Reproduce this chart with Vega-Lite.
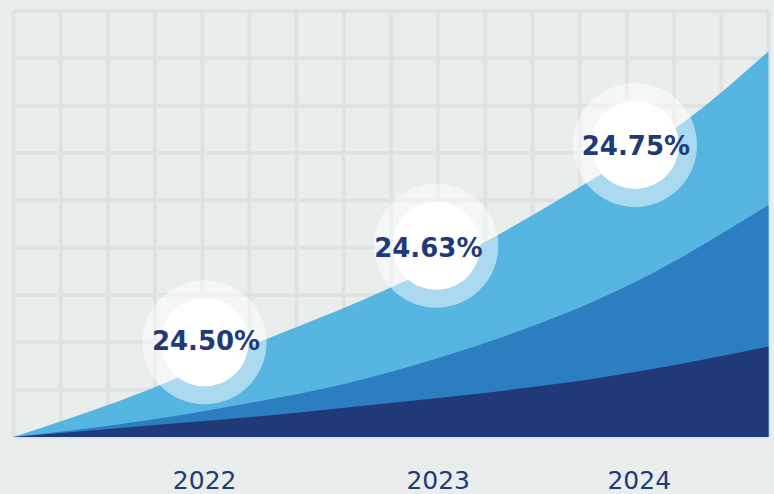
{
  "$schema": "https://vega.github.io/schema/vega-lite/v6.json",
  "width": 755,
  "height": 426,
  "autosize": "none",
  "padding": {"left": 13.5, "top": 11, "right": 5.5, "bottom": 57},
  "background": "#e9eeec",
  "config": {"view": {"stroke": null}},
  "datasets": {
    "gridx": [{"gx": 0}, {"gx": 1}, {"gx": 2}, {"gx": 3}, {"gx": 4}, {"gx": 5}, {"gx": 6}, {"gx": 7}, {"gx": 8}, {"gx": 9}, {"gx": 10}, {"gx": 11}, {"gx": 12}, {"gx": 13}, {"gx": 14}, {"gx": 15}, {"gx": 16}],
    "gridy": [{"gy": 0}, {"gy": 1}, {"gy": 2}, {"gy": 3}, {"gy": 4}, {"gy": 5}, {"gy": 6}, {"gy": 7}, {"gy": 8}, {"gy": 9}],
    "curves": [
      {"series": "light", "x": 0, "y": 0},
      {"series": "light", "x": 2.89, "y": 1.01},
      {"series": "light", "x": 5.22, "y": 2.01},
      {"series": "light", "x": 7.34, "y": 2.87},
      {"series": "light", "x": 9.95, "y": 4.1},
      {"series": "light", "x": 12.15, "y": 5.37},
      {"series": "light", "x": 14.27, "y": 6.7},
      {"series": "light", "x": 16, "y": 8.15},
      {"series": "mid", "x": 0, "y": 0},
      {"series": "mid", "x": 2.26, "y": 0.27},
      {"series": "mid", "x": 5.01, "y": 0.72},
      {"series": "mid", "x": 6.92, "y": 1.1},
      {"series": "mid", "x": 9.14, "y": 1.71},
      {"series": "mid", "x": 13.27, "y": 3.32},
      {"series": "mid", "x": 16, "y": 4.9},
      {"series": "dark", "x": 0, "y": 0},
      {"series": "dark", "x": 2.26, "y": 0.19},
      {"series": "dark", "x": 5.01, "y": 0.42},
      {"series": "dark", "x": 6.92, "y": 0.61},
      {"series": "dark", "x": 9.25, "y": 0.85},
      {"series": "dark", "x": 12.43, "y": 1.25},
      {"series": "dark", "x": 16, "y": 1.91}
    ],
    "labels": [
      {"year": "2022", "value": "24.50%", "cx": 4.05, "cy": 2.0, "tx": 4.08, "ty": 2.01},
      {"year": "2023", "value": "24.63%", "cx": 8.96, "cy": 4.04, "tx": 8.79, "ty": 3.97},
      {"year": "2024", "value": "24.75%", "cx": 13.17, "cy": 6.17, "tx": 13.19, "ty": 6.13}
    ]
  },
  "layer": [
    {
      "data": {"name": "gridx"},
      "mark": {"type": "rule", "strokeWidth": 4, "color": "#dfe2e1"},
      "encoding": {
        "x": {
          "field": "gx",
          "type": "quantitative",
          "scale": {"domain": [0, 16], "nice": false, "zero": false},
          "axis": {
            "values": [4.04, 8.99, 13.25],
            "labelExpr": "datum.value < 6 ? '2022' : (datum.value < 11 ? '2023' : '2024')",
            "domain": false,
            "ticks": false,
            "grid": false,
            "title": null,
            "labelFont": "DejaVu Sans",
            "labelFontSize": 25,
            "labelColor": "#1f3a7a",
            "labelPadding": 31,
            "labelFlush": false,
            "labelOverlap": false
          }
        }
      }
    },
    {
      "data": {"name": "gridy"},
      "mark": {"type": "rule", "strokeWidth": 4, "color": "#dfe2e1"},
      "encoding": {
        "y": {"field": "gy", "type": "quantitative", "scale": {"domain": [0, 9], "nice": false}, "axis": null}
      }
    },
    {
      "data": {"name": "curves"},
      "transform": [{"filter": "datum.series === 'light'"}],
      "mark": {"type": "area", "interpolate": "monotone", "color": "#52b3e0", "opacity": 0.97},
      "encoding": {
        "x": {"field": "x", "type": "quantitative"},
        "y": {"field": "y", "type": "quantitative", "stack": null}
      }
    },
    {
      "data": {"name": "curves"},
      "transform": [{"filter": "datum.series === 'mid'"}],
      "mark": {"type": "area", "interpolate": "monotone", "color": "#2a7cbe", "opacity": 0.98},
      "encoding": {
        "x": {"field": "x", "type": "quantitative"},
        "y": {"field": "y", "type": "quantitative", "stack": null}
      }
    },
    {
      "data": {"name": "curves"},
      "transform": [{"filter": "datum.series === 'dark'"}],
      "mark": {"type": "area", "interpolate": "monotone", "color": "#213878", "opacity": 0.99},
      "encoding": {
        "x": {"field": "x", "type": "quantitative"},
        "y": {"field": "y", "type": "quantitative", "stack": null}
      }
    },
    {
      "data": {"name": "labels"},
      "mark": {"type": "point", "shape": "circle", "filled": true, "color": "#ffffff", "opacity": 0.5, "size": 15376},
      "encoding": {
        "x": {"field": "cx", "type": "quantitative"},
        "y": {"field": "cy", "type": "quantitative"}
      }
    },
    {
      "data": {"name": "labels"},
      "mark": {"type": "point", "shape": "circle", "filled": true, "color": "#ffffff", "opacity": 1, "size": 7744},
      "encoding": {
        "x": {"field": "cx", "type": "quantitative"},
        "y": {"field": "cy", "type": "quantitative"}
      }
    },
    {
      "data": {"name": "labels"},
      "mark": {"type": "text", "font": "DejaVu Sans", "fontSize": 26, "fontWeight": "bold", "color": "#1f3a7a", "baseline": "middle", "align": "center"},
      "encoding": {
        "x": {"field": "tx", "type": "quantitative"},
        "y": {"field": "ty", "type": "quantitative"},
        "text": {"field": "value"}
      }
    }
  ]
}
